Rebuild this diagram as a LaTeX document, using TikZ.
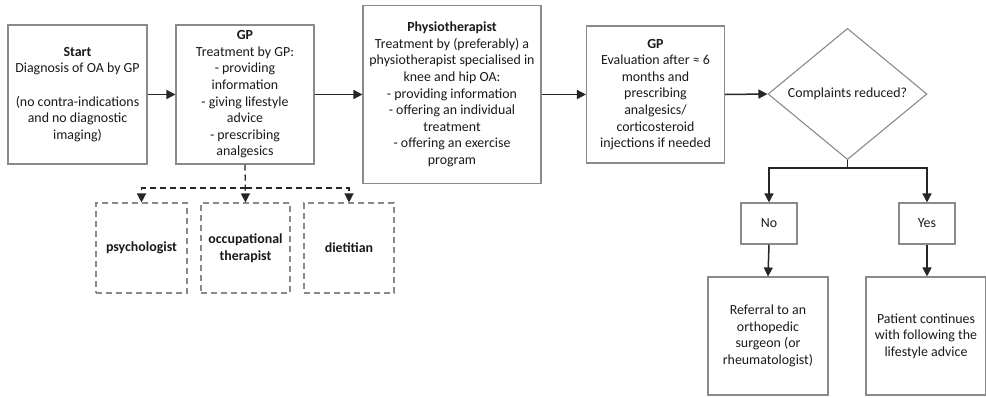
\documentclass[tikz,border=0pt]{standalone}
\usepackage{fontspec}
\setmainfont{Carlito}
\usetikzlibrary{arrows.meta,shapes.geometric}
\definecolor{boxgray}{HTML}{8A8A8A}
\definecolor{linegray}{HTML}{262626}
\tikzset{
  box/.style={draw=boxgray, line width=1.1pt, align=center, inner sep=2pt,
    font=\fontsize{13.9}{16.6}\selectfont, text=black!90},
  dbox/.style={box, dash pattern=on 6pt off 4pt, font=\fontsize{13.9}{16.6}\selectfont\bfseries},
  arr/.style={draw=linegray, line width=1.5pt, -{Triangle[length=9pt,width=9pt]}},
  darr/.style={arr, line width=1.3pt, dash pattern=on 6pt off 4pt}
}
\begin{document}
\begin{tikzpicture}[x=1pt,y=-1pt]
\useasboundingbox (0,0) rectangle (986,397);
\node[box, minimum width=139pt, minimum height=139pt] (start) at (77.5,94.5)
  {\textbf{Start}\\Diagnosis of OA by GP\\[16.6pt](no contra-indications\\and no diagnostic\\imaging)};
\node[box, minimum width=138pt, minimum height=139pt] (gp) at (245,94.5)
  {\textbf{GP}\\Treatment by GP:\\- providing\\information\\- giving lifestyle\\advice\\- prescribing\\analgesics};
\node[box, minimum width=178pt, minimum height=178pt] (physio) at (452,94.5)
  {\textbf{Physiotherapist}\\Treatment by (preferably) a\\physiotherapist specialised in\\knee and hip OA:\\- providing information\\- offering an individual\\treatment\\- offering an exercise\\program};
\node[box, minimum width=138pt, minimum height=137pt] (eval) at (655.5,94.5)
  {\textbf{GP}\\Evaluation after ≈ 6\\months and\\prescribing\\analgesics/\\corticosteroid\\injections if needed};
\node[box, shape=diamond, inner sep=0pt, minimum width=159pt, minimum height=118pt] (check) at (847.5,94)
  {Complaints reduced?};
\node[box, minimum width=56pt, minimum height=41pt] (no) at (769,223.5) {No};
\node[box, minimum width=56pt, minimum height=41pt] (yes) at (927,223.5) {Yes};
\node[box, minimum width=120pt, minimum height=118pt] (referral) at (768,336)
  {Referral to an\\orthopedic\\surgeon (or\\rheumatologist)};
\node[box, minimum width=120pt, minimum height=118pt] (patient) at (926,336)
  {Patient continues\\with following the\\lifestyle advice};
\node[dbox, minimum width=91pt, minimum height=90pt] (psych) at (141.5,248) {psychologist};
\node[dbox, minimum width=89pt, minimum height=90pt] (ot) at (245.5,248) {occupational\\therapist};
\node[dbox, minimum width=90pt, minimum height=90pt] (diet) at (349,248) {dietitian};
\coordinate (split) at (245.5,188);
\coordinate (fork) at (847.5,168);
\draw[arr] (start.east) -- (gp.west);
\draw[arr] (gp.east) -- (physio.west);
\draw[arr] (physio.east) -- (eval.west);
\draw[arr] (eval.east) -- (check.west);
\draw[arr] (check.south) -- (fork) -| (no.north);
\draw[arr] (fork) -| (yes.north);
\draw[arr] (no.south) -- (referral.north);
\draw[arr] (yes.south) -- (referral.north -| yes.south);
\draw[darr] (gp.south) -- (ot.north);
\draw[darr] (split) -| (psych.north);
\draw[darr] (split) -| (diet.north);
\end{tikzpicture}
\end{document}
